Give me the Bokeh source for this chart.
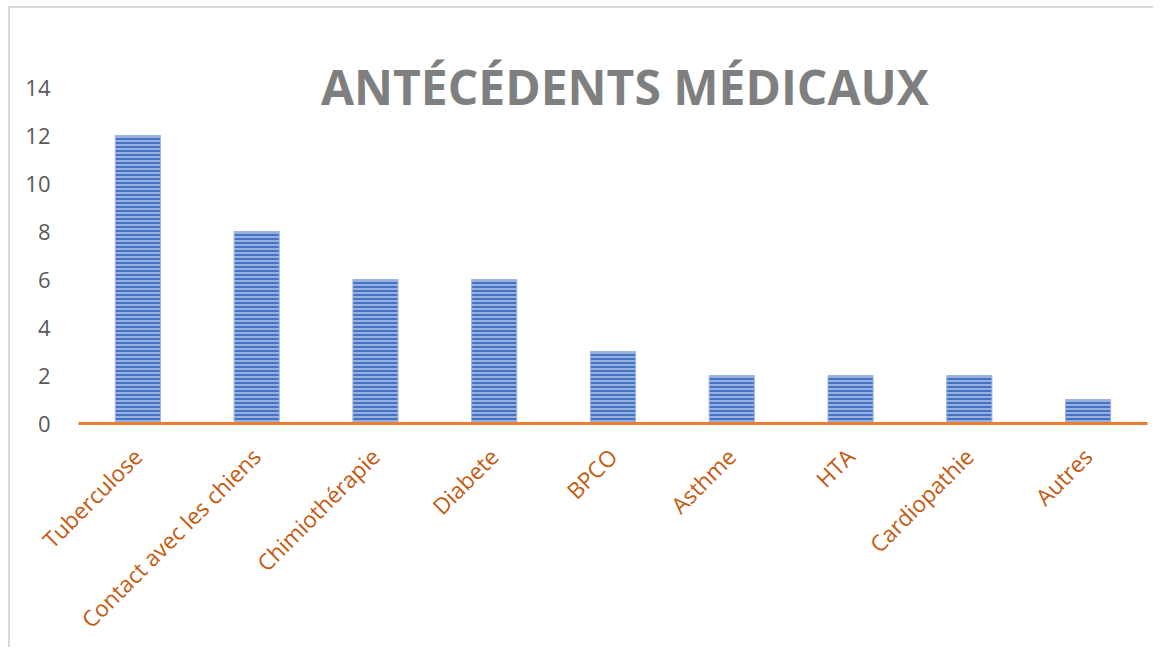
import math
from bokeh.plotting import figure
from bokeh.models import Label, FactorRange, Range1d, FixedTicker
from bokeh.embed import file_html
from bokeh.resources import INLINE

categories = ["Tuberculose", "Contact avec les chiens", "Chimiothérapie", "Diabete",
              "BPCO", "Asthme", "HTA", "Cardiopathie", "Autres"]
values = [12, 8, 6, 6, 3, 2, 2, 2, 1]
y_ticks = [0, 2, 4, 6, 8, 10, 12, 14]
title_text = "ANTÉCÉDENTS MÉDICAUX"

p = figure(x_range=FactorRange(*categories, range_padding=0), y_range=Range1d(0, 15.375),
           width=1145, height=641, output_backend="svg", toolbar_location=None,
           min_border_left=68, min_border_right=8, min_border_top=46, min_border_bottom=226)
p.styles = {"border-left": "2px solid #d9d9d9", "border-top": "2px solid #d9d9d9",
            "margin-left": "8px", "margin-top": "6px"}

p.vbar(x=categories, top=values, width=0.38, fill_color="#97b1df", line_color="#9fb6e0",
       line_width=1, hatch_pattern="horizontal_line", hatch_color="#4472c4",
       hatch_scale=4, hatch_weight=2)

p.outline_line_color = None
p.xgrid.grid_line_color = None
p.ygrid.grid_line_color = None

p.yaxis.ticker = FixedTicker(ticks=y_ticks)
p.yaxis.axis_line_color = None
p.yaxis.major_tick_line_color = None
p.yaxis.minor_tick_line_color = None
p.yaxis.major_label_text_font = "Open Sans"
p.yaxis.major_label_text_font_size = "22px"
p.yaxis.major_label_text_color = "#595959"
p.yaxis.major_label_standoff = 22

p.xaxis.axis_line_color = "#ed7d31"
p.xaxis.axis_line_width = 3
p.xaxis.major_tick_line_color = None
p.xaxis.minor_tick_line_color = None
p.xaxis.major_label_orientation = math.pi / 4
p.xaxis.major_label_text_font = "Open Sans"
p.xaxis.major_label_text_font_size = "22.5px"
p.xaxis.major_label_text_color = "#c55a11"
p.xaxis.major_label_standoff = 23

title = Label(x=4.6, y=14.05, text=title_text, text_font="Open Sans", text_font_style="bold",
              text_font_size="48px", text_color="#7f7f7f", text_align="center",
              text_baseline="alphabetic")
p.add_layout(title)

open("out.html", "w").write(file_html(p, INLINE))
